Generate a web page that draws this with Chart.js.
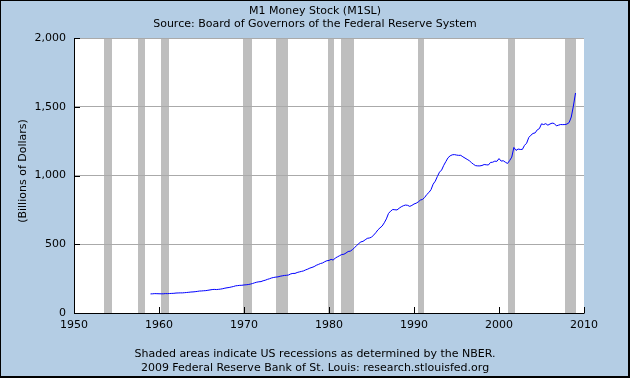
<!DOCTYPE html>
<html>
<head>
<meta charset="utf-8">
<script src="https://cdn.jsdelivr.net/npm/chart.js@4/dist/chart.umd.min.js"></script>
<style>
html,body{margin:0;padding:0;background:#b4cde4;}
#wrap{width:630px;height:378px;position:relative;}
canvas{display:block;}
</style>
</head>
<body>
<div id="wrap"><canvas id="c" width="630" height="378"></canvas></div>
<script>
// ---- data ----
const startYear = 1959;
const stepYears = 0.25;
const m1Values = [
  138.9,
  139.6, 141.0, 140.5, 140.0,
  139.6, 139.6, 141.2, 140.7,
  141.6, 142.6, 143.1, 145.2,
  145.7, 146.4, 146.3, 147.8,
  149.2, 150.6, 152.6, 153.3,
  154.9, 157.0, 159.6, 160.3,
  161.8, 162.7, 165.2, 167.8,
  170.4, 171.6, 170.5, 172.0,
  173.9, 176.6, 180.5, 183.3,
  185.5, 189.1, 192.4, 197.4,
  199.2, 201.1, 201.5, 203.9,
  205.2, 207.0, 210.1, 214.4,
  219.6, 224.1, 227.0, 228.3,
  234.5, 238.3, 244.5, 249.2,
  254.9, 258.5, 261.1, 262.9,
  267.3, 270.2, 273.0, 274.2,
  276.6, 284.4, 287.9, 287.9,
  294.5, 298.6, 302.3, 306.2,
  313.5, 319.1, 326.6, 331.5,
  337.5, 346.9, 353.0, 359.9,
  364.0, 373.0, 380.1, 382.5,
  390.0, 385.0, 400.4, 408.5,
  417.0, 425.3, 427.1, 436.2,
  447.2, 449.6, 460.6, 474.3,
  491.0, 505.0, 517.2, 521.1,
  532.0, 542.8, 545.6, 551.2,
  566.6, 583.6, 604.4, 619.1,
  632.4, 656.0, 684.5, 724.0,
  741.0, 752.8, 750.8, 749.4,
  762.0, 772.6, 780.3, 785.1,
  783.0, 775.4, 782.5, 792.6,
  798.2, 808.1, 821.3, 825.8,
  840.0, 861.8, 876.1, 897.0,
  937.0, 958.6, 993.0, 1024.4,
  1040.0, 1074.0, 1101.6, 1128.8,
  1143.0, 1150.4, 1152.0, 1148.7,
  1146.5, 1146.7, 1136.0, 1126.8,
  1117.3, 1108.0, 1094.0, 1081.3,
  1071.6, 1070.0, 1069.8, 1072.8,
  1079.7, 1077.9, 1076.3, 1095.0,
  1096.4, 1104.3, 1102.9, 1123.0,
  1104.8, 1107.4, 1096.5, 1087.5,
  1108.5, 1133.6, 1204.0, 1182.5,
  1192.5, 1189.4, 1190.0, 1219.0,
  1235.0, 1276.0, 1293.0, 1306.0,
  1309.8, 1332.0, 1341.0, 1375.7,
  1370.5, 1377.0, 1366.0, 1374.6,
  1381.0, 1378.0, 1361.0, 1366.1,
  1370.6, 1370.0, 1370.5, 1374.3,
  1385.0, 1425.0, 1505.0, 1600.0
];
const recessionStarts = [1953.5, 1957.55, 1960.25, 1969.9, 1973.8, 1979.9, 1981.45, 1990.5, 2001.1, 2007.8];
const recessionEnds   = [1954.45, 1958.35, 1961.15, 1970.9, 1975.2, 1980.6, 1982.95, 1991.2, 2001.9, 2009.05];
const xTickValues = [1950, 1960, 1970, 1980, 1990, 2000, 2010];
const yTickValues = [0, 500, 1000, 1500, 2000];
const titleLines = ['M1 Money Stock (M1SL)', 'Source: Board of Governors of the Federal Reserve System'];
const yAxisTitle = '(Billions of Dollars)';
const footerLines = ['Shaded areas indicate US recessions as determined by the NBER.', '2009 Federal Reserve Bank of St. Louis: research.stlouisfed.org'];

// ---- style ----
const FONT = '11px "DejaVu Sans", Verdana, sans-serif';
const BG = '#b4cde4';
const SHADE = '#bebebe';
const GRID = '#aaaaaa';

const decor = {
  id: 'decor',
  beforeDraw(chart) {
    const {ctx, chartArea: a, scales: {x}} = chart;
    ctx.save();
    ctx.fillStyle = BG;
    ctx.fillRect(0, 0, chart.width, chart.height);
    ctx.fillStyle = '#ffffff';
    ctx.fillRect(a.left, a.top, a.right - a.left, a.bottom - a.top);
    ctx.fillStyle = SHADE;
    for (let i = 0; i < recessionStarts.length; i++) {
      const x0 = Math.round(x.getPixelForValue(recessionStarts[i]));
      const x1 = Math.round(Math.min(x.getPixelForValue(recessionEnds[i]), a.right));
      ctx.fillRect(x0, a.top, x1 - x0, a.bottom - a.top);
    }
    ctx.restore();
  },
  afterDraw(chart) {
    const {ctx, chartArea: a, scales: {x, y}} = chart;
    ctx.save();
    // axis lines and inner ticks
    ctx.strokeStyle = '#000000';
    ctx.lineWidth = 1;
    ctx.beginPath();
    ctx.moveTo(a.left + 0.5, a.top);
    ctx.lineTo(a.left + 0.5, a.bottom + 0.5);
    ctx.lineTo(a.right + 0.5, a.bottom + 0.5);
    yTickValues.forEach(v => {
      const py = Math.round(y.getPixelForValue(v)) + 0.5;
      ctx.moveTo(a.left, py);
      ctx.lineTo(a.left + 6, py);
    });
    xTickValues.forEach(v => {
      const px = Math.round(x.getPixelForValue(v)) + 0.5;
      ctx.moveTo(px, a.bottom);
      ctx.lineTo(px, a.bottom - 6);
    });
    ctx.stroke();
    // texts
    ctx.fillStyle = '#000000';
    ctx.font = FONT;
    ctx.textAlign = 'center';
    ctx.textBaseline = 'alphabetic';
    ctx.fillText(titleLines[0], 315, 14);
    ctx.fillText(titleLines[1], 315, 27);
    ctx.fillText(footerLines[0], 315, 357);
    ctx.fillText(footerLines[1], 315, 371);
    ctx.save();
    ctx.translate(26, 171);
    ctx.rotate(-Math.PI / 2);
    ctx.textBaseline = 'alphabetic';
    ctx.fillText(yAxisTitle, 0, 0);
    ctx.restore();
    // outer border
    ctx.fillStyle = '#000000';
    ctx.fillRect(0, 0, chart.width, 1);
    ctx.fillRect(0, 0, 1, chart.height);
    ctx.fillRect(chart.width - 2, 0, 2, chart.height);
    ctx.fillRect(0, chart.height - 2, chart.width, 2);
    ctx.restore();
  }
};

new Chart(document.getElementById('c'), {
  type: 'line',
  data: {
    datasets: [{
      data: m1Values.map((v, i) => ({x: startYear + i * stepYears, y: v})),
      borderColor: '#0000ff',
      borderWidth: 1,
      pointRadius: 0,
      tension: 0,
      fill: false
    }]
  },
  options: {
    responsive: false,
    devicePixelRatio: 1,
    animation: false,
    layout: {padding: {top: 38, right: 46, bottom: 0, left: 0}},
    plugins: {legend: {display: false}, tooltip: {enabled: false}, title: {display: false}},
    scales: {
      x: {
        type: 'linear',
        min: 1950, max: 2010,
        afterBuildTicks: s => { s.ticks = xTickValues.map(v => ({value: v})); },
        afterFit: s => { s.height = 65; },
        grid: {display: false, drawTicks: false},
        border: {display: false},
        ticks: {color: '#000000', font: {family: '"DejaVu Sans", Verdana, sans-serif', size: 11}, padding: 6, maxRotation: 0, autoSkip: false, callback: v => String(v)}
      },
      y: {
        type: 'linear',
        min: 0, max: 2000,
        afterBuildTicks: s => { s.ticks = yTickValues.map(v => ({value: v})); },
        afterFit: s => { s.width = 74; },
        grid: {drawTicks: false, color: c => (c.tick && c.tick.value === 0) ? 'rgba(0,0,0,0)' : GRID, lineWidth: 1},
        border: {display: false},
        ticks: {color: '#000000', font: {family: '"DejaVu Sans", Verdana, sans-serif', size: 11}, padding: 8, callback: v => v.toLocaleString('en-US')}
      }
    }
  },
  plugins: [decor]
});
</script>
</body>
</html>
